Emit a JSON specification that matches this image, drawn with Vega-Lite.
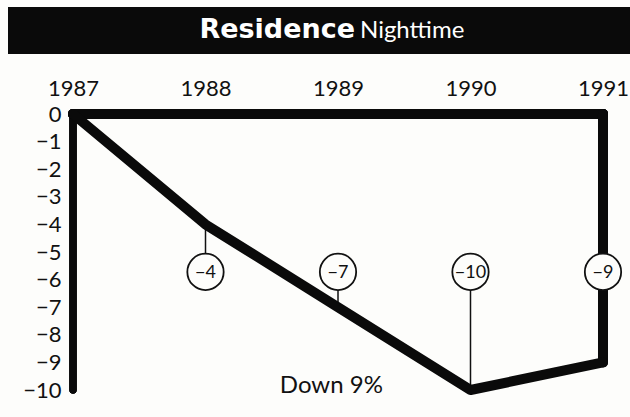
{
  "$schema": "https://vega.github.io/schema/vega-lite/v6.json",
  "background": "#fdfdfb",
  "padding": {"left": 8, "top": 7, "right": 0, "bottom": 0},
  "spacing": 0,
  "resolve": {"scale": {"x": "independent", "y": "independent"}},
  "config": {"view": {"stroke": null}, "font": "Lato", "axis": {"labelOverlap": false}},
  "datasets": {
    "series": [
      {"year": 1987, "value": 0, "label": ""},
      {"year": 1988, "value": -4, "label": "−4"},
      {"year": 1989, "value": -7, "label": "−7"},
      {"year": 1990, "value": -10, "label": "−10"},
      {"year": 1991, "value": -9, "label": "−9"}
    ],
    "titleWords": [
      {"word": "Residence", "part": "first"},
      {"word": "Nighttime", "part": "second"}
    ],
    "notes": [
      {"note": "Down 9%"}
    ]
  },
  "vconcat": [
    {
      "width": 622,
      "height": 47,
      "view": {"fill": "#0a0a0a", "stroke": null},
      "data": {"name": "titleWords"},
      "layer": [
        {
          "transform": [{"filter": "datum.part === 'first'"}],
          "mark": {"type": "text", "font": "DejaVu Sans", "fontWeight": "bold", "fontSize": 27, "color": "#ffffff", "align": "right", "baseline": "alphabetic"},
          "encoding": {
            "x": {"datum": 0.5579, "type": "quantitative", "scale": {"domain": [0, 1], "nice": false, "zero": false}, "axis": null},
            "y": {"datum": 0.34, "type": "quantitative", "scale": {"domain": [0, 1], "nice": false, "zero": false}, "axis": null},
            "text": {"field": "word", "type": "nominal"}
          }
        },
        {
          "transform": [{"filter": "datum.part === 'second'"}],
          "mark": {"type": "text", "font": "Lato", "fontWeight": "normal", "fontSize": 24, "color": "#ffffff", "align": "left", "baseline": "alphabetic"},
          "encoding": {
            "x": {"datum": 0.5659, "type": "quantitative"},
            "y": {"datum": 0.34, "type": "quantitative"},
            "text": {"field": "word", "type": "nominal"}
          }
        }
      ]
    },
    {
      "width": 622,
      "height": 363,
      "data": {"name": "series"},
      "layer": [
        {
          "transform": [{"filter": "datum.label !== ''"}],
          "mark": {"type": "rule", "color": "#111", "strokeWidth": 1.5},
          "encoding": {
            "x": {
              "field": "year", "type": "quantitative",
              "scale": {"domain": [1986.5094, 1991.2038], "nice": false, "zero": false},
              "axis": {"orient": "top", "values": [1987, 1988, 1989, 1990, 1991], "format": "d", "offset": -50, "domain": false, "ticks": false, "grid": false, "labelPadding": 9, "labelFontSize": 22, "labelFont": "Lato", "labelColor": "#111", "labelBaseline": "alphabetic", "labelFlush": false, "labelOverlap": false, "labelBound": false, "title": null}
            },
            "y": {
              "field": "value", "type": "quantitative",
              "scale": {"domain": [-10.978, 2.174], "nice": false, "zero": false},
              "axis": {"orient": "left", "values": [0, -1, -2, -3, -4, -5, -6, -7, -8, -9, -10], "tickCount": 11, "format": "d", "offset": -65, "domain": false, "ticks": false, "grid": false, "labelPadding": 12, "labelFontSize": 22, "labelFont": "Lato", "labelColor": "#111", "labelBaseline": "middle", "labelFlush": false, "labelOverlap": false, "labelBound": false, "title": null}
            },
            "y2": {"datum": -5.72}
          }
        },
        {
          "mark": {"type": "rule", "color": "#0a0a0a", "strokeWidth": 7, "strokeCap": "round"},
          "encoding": {
            "x": {"datum": 1987, "type": "quantitative"},
            "y": {"datum": 0, "type": "quantitative"},
            "y2": {"datum": -10}
          }
        },
        {
          "mark": {"type": "rule", "color": "#0a0a0a", "strokeWidth": 10, "strokeCap": "round"},
          "encoding": {
            "x": {"datum": 1987, "type": "quantitative"},
            "x2": {"datum": 1991},
            "y": {"datum": 0, "type": "quantitative"}
          }
        },
        {
          "transform": [{"filter": "datum.year === 1991"}],
          "mark": {"type": "rule", "color": "#0a0a0a", "strokeWidth": 10, "strokeCap": "round"},
          "encoding": {
            "x": {"field": "year", "type": "quantitative"},
            "y": {"field": "value", "type": "quantitative"},
            "y2": {"datum": 0}
          }
        },
        {
          "mark": {"type": "line", "color": "#0a0a0a", "strokeWidth": 10, "strokeJoin": "round", "strokeCap": "round"},
          "encoding": {
            "x": {"field": "year", "type": "quantitative"},
            "y": {"field": "value", "type": "quantitative"}
          }
        },
        {
          "transform": [{"filter": "datum.label !== ''"}],
          "mark": {"type": "point", "shape": "circle", "size": 1320, "filled": true, "fill": "#fdfdfb", "stroke": "#111", "strokeWidth": 1.8, "opacity": 1},
          "encoding": {
            "x": {"field": "year", "type": "quantitative"},
            "y": {"datum": -5.72, "type": "quantitative"}
          }
        },
        {
          "transform": [{"filter": "datum.label !== ''"}],
          "mark": {"type": "text", "font": "Lato", "fontSize": 18, "color": "#111", "baseline": "middle", "align": "center", "dy": 1},
          "encoding": {
            "x": {"field": "year", "type": "quantitative"},
            "y": {"datum": -5.72, "type": "quantitative"},
            "text": {"field": "label", "type": "nominal"}
          }
        },
        {
          "data": {"name": "notes"},
          "mark": {"type": "text", "font": "Lato", "fontSize": 24, "color": "#111", "baseline": "alphabetic", "align": "center"},
          "encoding": {
            "x": {"datum": 1988.95, "type": "quantitative"},
            "y": {"datum": -10.1, "type": "quantitative"},
            "text": {"field": "note", "type": "nominal"}
          }
        }
      ]
    }
  ]
}
